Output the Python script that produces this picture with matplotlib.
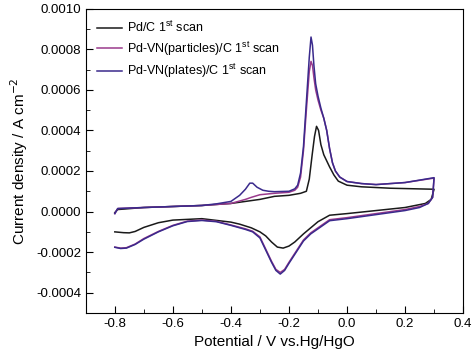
import numpy as np
import matplotlib.pyplot as plt
from matplotlib.ticker import MultipleLocator, FormatStrFormatter

plt.rcParams['font.family'] = ['Liberation Sans', 'DejaVu Sans']

# Pd/C 1st scan
pdc_fwd_E = [-0.8, -0.79, -0.7, -0.6, -0.5, -0.4, -0.3, -0.25, -0.2, -0.16, -0.14, -0.13,
             -0.12, -0.112, -0.105, -0.098, -0.09, -0.08, -0.07, -0.06, -0.045, -0.03, 0.0,
             0.05, 0.15, 0.3]
pdc_fwd_j = [-0.000005, 0.00001, 0.00002, 0.000025, 0.00003, 0.00004, 0.00006, 0.000075, 0.00008,
             0.00009, 0.0001, 0.00016, 0.00028, 0.00037, 0.00042, 0.0004, 0.00033, 0.00028,
             0.00025, 0.00022, 0.00018, 0.00015, 0.00013, 0.000122, 0.000115, 0.00011]
pdc_rev_E = [0.3, 0.29, 0.27, 0.2, 0.1, 0.0, -0.06, -0.1, -0.15, -0.18, -0.2, -0.22, -0.24,
             -0.26, -0.28, -0.3, -0.33, -0.37, -0.4, -0.5, -0.6, -0.65, -0.7, -0.73, -0.75,
             -0.77, -0.8]
pdc_rev_j = [0.00011, 0.00006, 0.00004, 0.00002, 0.000005, -0.00001, -0.000018, -0.00005,
             -0.00011, -0.00015, -0.00017, -0.00018, -0.000175, -0.00015, -0.00012, -0.0001,
             -0.00008, -0.000062, -0.000052, -0.000035, -0.000042, -0.000055, -0.000078,
             -0.000098, -0.000105, -0.000104, -0.0001]

# Pd-VN(particles)/C 1st scan
par_fwd_E = [-0.8, -0.79, -0.7, -0.6, -0.5, -0.4, -0.35, -0.33, -0.3, -0.25, -0.2, -0.18, -0.17,
             -0.16, -0.15, -0.14, -0.13, -0.124, -0.119, -0.114, -0.108, -0.1, -0.09, -0.08,
             -0.07, -0.06, -0.05, -0.04, -0.025, 0.0, 0.05, 0.1, 0.2, 0.3]
par_fwd_j = [-0.00001, 0.000015, 0.00002, 0.000025, 0.00003, 0.00004, 0.00006, 0.00007, 0.000083,
             0.00009, 0.000095, 0.000105, 0.00012, 0.00017, 0.0003, 0.0005, 0.00069, 0.00074,
             0.00072, 0.00066, 0.0006, 0.00055, 0.0005, 0.00046, 0.0004, 0.00031, 0.00024,
             0.0002, 0.00017, 0.000148, 0.000138, 0.000133, 0.000143, 0.000165]
par_rev_E = [0.3, 0.295, 0.28, 0.25, 0.2, 0.1, 0.0, -0.06, -0.1, -0.125, -0.15, -0.175, -0.2,
             -0.215, -0.23, -0.245, -0.26, -0.28, -0.3, -0.325, -0.35, -0.4, -0.45, -0.5, -0.55,
             -0.6, -0.65, -0.7, -0.73, -0.76, -0.78, -0.8]
par_rev_j = [0.000165, 0.00007, 0.00004, 0.000025, 0.00001, -0.00001, -0.00003, -0.00004,
             -0.00008, -0.000105, -0.00014, -0.000195, -0.00025, -0.000285, -0.0003, -0.000285,
             -0.000245, -0.000185, -0.000125, -0.000097, -0.000085, -0.000066, -0.000048,
             -0.000042, -0.000047, -0.000068, -0.000098, -0.000133, -0.00016, -0.000178,
             -0.00018, -0.000175]

# Pd-VN(plates)/C 1st scan
pla_fwd_E = [-0.8, -0.79, -0.7, -0.6, -0.5, -0.45, -0.4, -0.37, -0.35, -0.335, -0.325, -0.31,
             -0.29, -0.27, -0.25, -0.2, -0.18, -0.17, -0.16, -0.15, -0.14, -0.13, -0.124,
             -0.119, -0.114, -0.108, -0.1, -0.09, -0.08, -0.07, -0.06, -0.05, -0.04, -0.025,
             0.0, 0.05, 0.1, 0.2, 0.3]
pla_fwd_j = [-0.00001, 0.000015, 0.00002, 0.000025, 0.00003, 0.000038, 0.00005, 0.00008, 0.00011,
             0.00014, 0.00014, 0.00012, 0.000105, 0.0001, 0.000098, 0.0001, 0.000112, 0.00013,
             0.00019, 0.00032, 0.00054, 0.00076, 0.00086, 0.00082, 0.00072, 0.00063, 0.00057,
             0.00051, 0.00046, 0.0004, 0.00031, 0.00024, 0.0002, 0.00017, 0.000148, 0.000138,
             0.000133, 0.000143, 0.000167]
pla_rev_E = [0.3, 0.295, 0.28, 0.25, 0.2, 0.1, 0.0, -0.06, -0.1, -0.125, -0.15, -0.175, -0.2,
             -0.215, -0.23, -0.245, -0.26, -0.28, -0.3, -0.325, -0.35, -0.4, -0.45, -0.5, -0.55,
             -0.6, -0.65, -0.7, -0.73, -0.76, -0.78, -0.8]
pla_rev_j = [0.000167, 0.00007, 0.00004, 0.00002, 0.000005, -0.000015, -0.000035, -0.000045,
             -0.000085, -0.00011, -0.000145, -0.0002, -0.000255, -0.00029, -0.000308, -0.00029,
             -0.00025, -0.00019, -0.00013, -0.0001, -0.000088, -0.000068, -0.00005, -0.000044,
             -0.000049, -0.00007, -0.0001, -0.000136, -0.000162, -0.00018, -0.000182, -0.000176]

labels = ['Pd/C 1$\\mathregular{^{st}}$ scan',
          'Pd-VN(particles)/C 1$\\mathregular{^{st}}$ scan',
          'Pd-VN(plates)/C 1$\\mathregular{^{st}}$ scan']
colors = ['#1a1a1a', '#9a3a8c', '#3a2a8c']

fig = plt.figure(figsize=(4.74, 3.59), dpi=100)
ax = fig.add_axes([0.181, 0.128, 0.796, 0.848])

curves = [(pdc_fwd_E, pdc_fwd_j, pdc_rev_E, pdc_rev_j),
          (par_fwd_E, par_fwd_j, par_rev_E, par_rev_j),
          (pla_fwd_E, pla_fwd_j, pla_rev_E, pla_rev_j)]

for (fe, fj, re, rj), lab, c in zip(curves, labels, colors):
    E = list(fe) + list(re)
    j = list(fj) + list(rj)
    ax.plot(E, j, color=c, linewidth=1.1, label=lab, solid_joinstyle='round')

ax.set_xlim(-0.9, 0.4)
ax.set_ylim(-0.0005, 0.0010)
ax.xaxis.set_major_locator(MultipleLocator(0.2))
ax.xaxis.set_minor_locator(MultipleLocator(0.1))
ax.yaxis.set_major_locator(MultipleLocator(0.0002))
ax.yaxis.set_minor_locator(MultipleLocator(0.0001))
ax.xaxis.set_major_formatter(FormatStrFormatter('%.1f'))
ax.yaxis.set_major_formatter(FormatStrFormatter('%.4f'))
ax.tick_params(which='both', direction='in', top=False, right=False, labelsize=9.5)
ax.tick_params(which='major', length=5)
ax.tick_params(which='minor', length=3)

ax.set_xlabel('Potential / V vs.Hg/HgO', fontsize=11)
ax.set_ylabel('Current density / A cm$^{-2}$', fontsize=11)

ax.legend(loc='upper left', frameon=False, fontsize=9, handlelength=2.0,
          handletextpad=0.4, borderaxespad=0.5, labelspacing=0.35)

fig.savefig('out.png', dpi=100)
